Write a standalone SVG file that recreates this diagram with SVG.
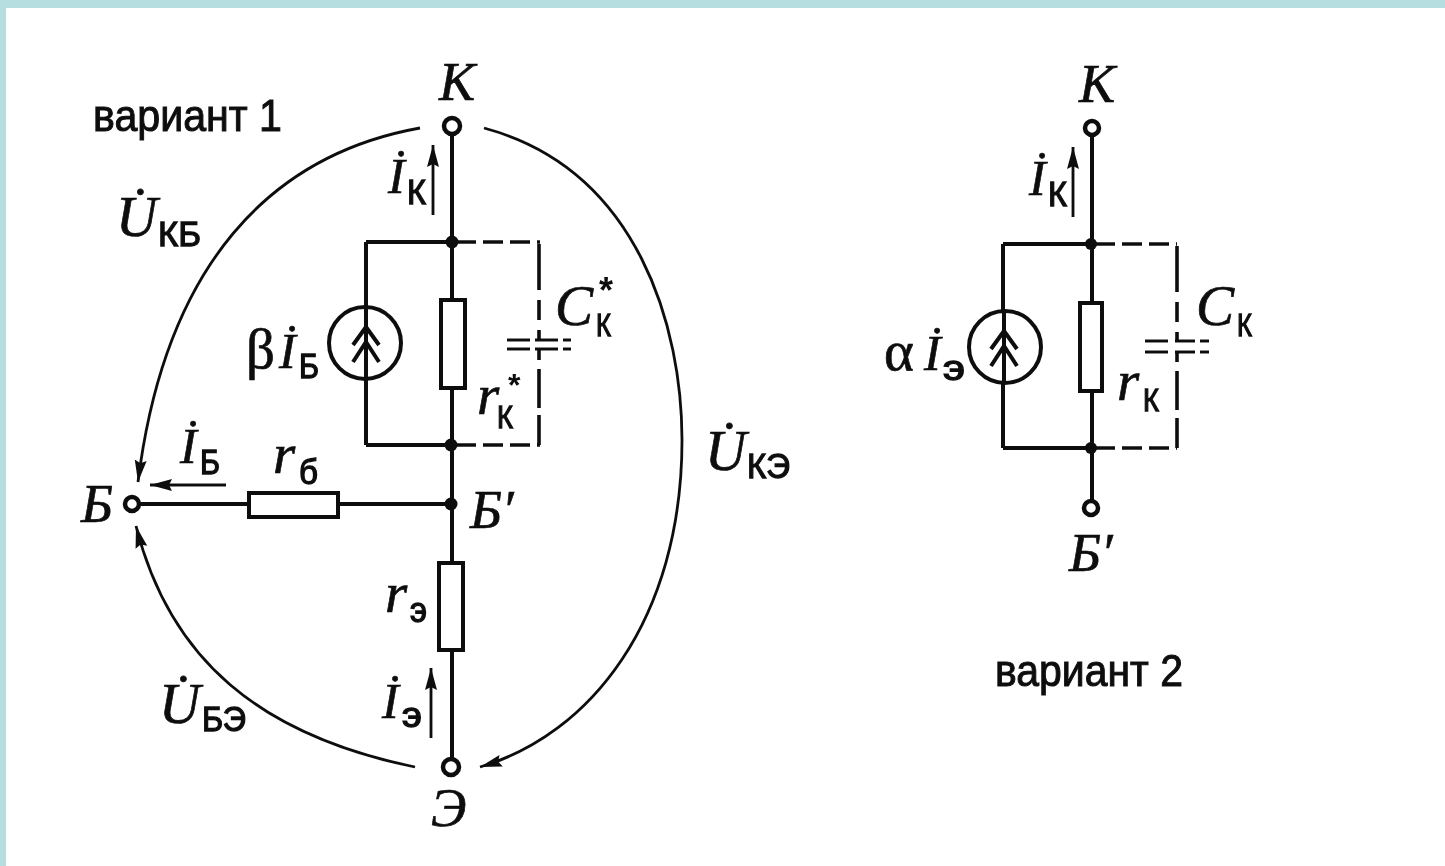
<svg xmlns="http://www.w3.org/2000/svg" width="1445" height="866" viewBox="0 0 1445 866">
<style>
.w{fill:none;stroke:#111;stroke-width:4}
.t{fill:none;stroke:#111;stroke-width:2.8}
.d{fill:none;stroke:#111;stroke-width:3.6;stroke-dasharray:20 7}
.e{fill:none;stroke:#111;stroke-width:3.6}
.r{fill:#fff;stroke:#111;stroke-width:4}
.o{fill:#fff;stroke:#111;stroke-width:4.5}
.j{fill:#111}
.i{font-family:"Liberation Serif",serif;font-style:italic;font-size:54px;fill:#111;stroke:#111;stroke-width:.7}
.b{font-size:50px}
.u{font-size:57px}
.g{font-family:"Liberation Serif",serif;font-size:57px;fill:#111;stroke:#111;stroke-width:.7}
.s{font-family:"Liberation Sans",sans-serif;font-size:35px;fill:#111;stroke:#111;stroke-width:1.3}
.a{font-family:"Liberation Sans",sans-serif;font-weight:bold;font-size:36px;fill:#111}
.l{font-family:"Liberation Sans",sans-serif;font-size:44px;fill:#111;stroke:#111;stroke-width:1}
</style>
<defs>
<filter id="soft" x="0" y="0" width="100%" height="100%"><feGaussianBlur stdDeviation="0.65"/></filter>
<marker id="a" markerUnits="userSpaceOnUse" markerWidth="24" markerHeight="14" refX="22" refY="7" orient="auto"><path d="M0 1L22 7L0 13L3 7Z" fill="#111"/></marker>
<path id="ch" d="M-13 20L0 2L13 20M-13 37L0 17L13 37" fill="none" stroke="#111" stroke-width="4"/>
</defs>
<rect width="1445" height="866" fill="#fff"/>
<path d="M0 0H1445V8H6V866H0Z" fill="#b6dde0"/>
<g filter="url(#soft)">
<g id="connectors">
<path class="w" d="M452 134V760M366 242H452M366 445H452M366 242V445M140 504H248M338 504H452"/>
<path class="d" d="M456 242H540"/><path class="d" d="M456 445H540"/>
<path class="e" d="M539 244V290M539 300V320M539 330V340M539 349V360M539 369V408M539 415V445"/>
<path class="w" d="M1092 135V501M1003 244H1091M1003 448H1091M1003 244V448"/>
<path class="d" d="M1095 244H1177"/><path class="d" d="M1095 448H1177"/>
<path class="e" d="M1177 246V292M1177 302V322M1177 332V341M1177 352V362M1177 371V410M1177 418V448"/>
<path class="t" marker-end="url(#a)" d="M420 128C270 155 165 265 138 482"/>
<path class="t" marker-end="url(#a)" d="M484 128C640 170 682 330 682 440C682 620 590 735 480 767"/>
<path class="t" marker-end="url(#a)" d="M415 767C260 735 170 660 136 526"/>
<path class="t" marker-end="url(#a)" d="M433 215V145"/>
<path class="t" marker-end="url(#a)" d="M431 738V668"/>
<path class="t" marker-end="url(#a)" d="M1073 217V147"/>
<path class="t" marker-end="url(#a)" d="M226 485H150"/>
</g>
<g id="label-v1"><text class="l" x="93" y="131" textLength="189" lengthAdjust="spacingAndGlyphs">вариант 1</text></g>
<g id="node-K1"><circle class="o" cx="452" cy="126" r="8"/><text class="i" x="439" y="100">К</text></g>
<g id="label-Ik1"><text class="i b" x="388" y="193">İ</text><text class="s" x="407" y="204" textLength="19" lengthAdjust="spacingAndGlyphs">К</text></g>
<g id="label-Ukb"><text class="i u" x="116" y="236">U̇</text><text class="s" x="158" y="246" textLength="43" lengthAdjust="spacingAndGlyphs">КБ</text></g>
<g id="source1"><circle class="r" cx="365" cy="343" r="36"/><path class="w" d="M366 307V379"/><use href="#ch" x="366" y="325"/><text class="g" x="246" y="368">β</text><text class="i b" x="279" y="368">İ</text><text class="s" x="299" y="378" textLength="20" lengthAdjust="spacingAndGlyphs">Б</text></g>
<g id="rk1"><rect class="r" x="441" y="300" width="24" height="88"/><text class="i u" x="477" y="414">r</text><text class="s" x="497" y="428" style="font-size:32px" textLength="16" lengthAdjust="spacingAndGlyphs">К</text><text class="a" x="508" y="396" style="font-size:32px">*</text></g>
<g id="ck1"><path class="t" d="M507 340H530M535 340H558M507 349H530M535 349H558"/><path class="t" d="M563 340H571M563 349H571"/><text class="i u" x="555" y="325">C</text><text class="s" x="596" y="336" style="font-size:32px" textLength="15" lengthAdjust="spacingAndGlyphs">К</text><text class="a" x="599" y="303">*</text></g>
<g id="j1" class="j"><circle cx="452" cy="242" r="6.5"/><circle cx="451" cy="445" r="6.5"/><circle cx="451" cy="504" r="6.5"/></g>
<g id="node-B"><circle class="o" cx="132" cy="504" r="7"/><text class="i" x="81" y="522">Б</text></g>
<g id="label-Ib"><text class="i b" x="180" y="463">İ</text><text class="s" x="200" y="474" textLength="20" lengthAdjust="spacingAndGlyphs">Б</text></g>
<g id="rb"><rect class="r" x="249" y="493" width="89" height="24"/><text class="i u" x="273" y="473">r</text><text class="s" x="299" y="484" textLength="19" lengthAdjust="spacingAndGlyphs">б</text></g>
<g id="label-Bp1"><text class="i" x="470" y="528">Б′</text></g>
<g id="re"><rect class="r" x="439" y="563" width="24" height="87"/><text class="i u" x="385" y="612">r</text><text class="s" x="410" y="622" textLength="17" lengthAdjust="spacingAndGlyphs">э</text></g>
<g id="label-Ie"><text class="i b" x="382" y="718">İ</text><text class="s" x="402" y="727" textLength="20" lengthAdjust="spacingAndGlyphs">э</text></g>
<g id="label-Ube"><text class="i u" x="159" y="723">U̇</text><text class="s" x="202" y="731" textLength="44" lengthAdjust="spacingAndGlyphs">БЭ</text></g>
<g id="node-E"><circle class="o" cx="451" cy="767" r="8"/><text class="i" x="431" y="826">Э</text></g>
<g id="label-Uke"><text class="i u" x="705" y="470">U̇</text><text class="s" x="747" y="478" textLength="43" lengthAdjust="spacingAndGlyphs">КЭ</text></g>
<g id="node-K2"><circle class="o" cx="1092" cy="128" r="7"/><text class="i" x="1079" y="102">К</text></g>
<g id="label-Ik2"><text class="i b" x="1029" y="195">İ</text><text class="s" x="1048" y="206" textLength="19" lengthAdjust="spacingAndGlyphs">К</text></g>
<g id="source2"><circle class="r" cx="1005" cy="347" r="36"/><path class="w" d="M1004 311V383"/><use href="#ch" x="1004" y="329"/><text class="g" x="884" y="370">α</text><text class="i b" x="924" y="370">İ</text><text class="s" x="943" y="380" textLength="22" lengthAdjust="spacingAndGlyphs">э</text></g>
<g id="rk2"><rect class="r" x="1080" y="303" width="22" height="88"/><text class="i u" x="1117" y="400">r</text><text class="s" x="1143" y="411" style="font-size:32px" textLength="16" lengthAdjust="spacingAndGlyphs">К</text></g>
<g id="ck2"><path class="t" d="M1145 341H1168M1175 341H1195M1145 352H1168M1175 352H1195M1200 341H1209M1200 352H1209"/><text class="i u" x="1196" y="325">C</text><text class="s" x="1237" y="336" style="font-size:32px" textLength="15" lengthAdjust="spacingAndGlyphs">К</text></g>
<g id="j2" class="j"><circle cx="1091" cy="244" r="6"/><circle cx="1091" cy="448" r="6"/></g>
<g id="node-Bp2"><circle class="o" cx="1091" cy="508" r="7"/><text class="i" x="1069" y="571">Б′</text></g>
<g id="label-v2"><text class="l" x="995" y="686" textLength="188" lengthAdjust="spacingAndGlyphs">вариант 2</text></g>
</g>
</svg>
